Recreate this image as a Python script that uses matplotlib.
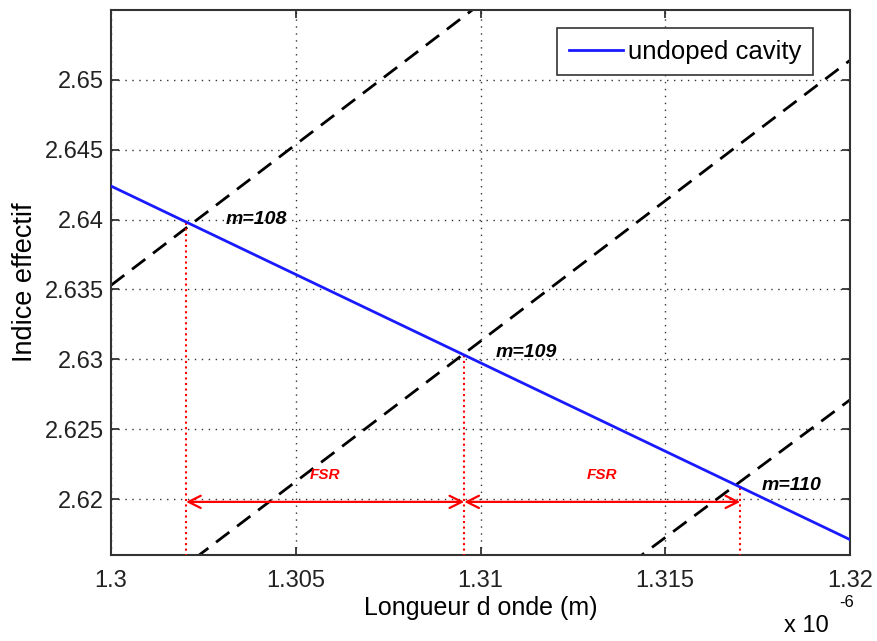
import numpy as np
import matplotlib.pyplot as plt

plt.rcParams['font.family'] = ['Liberation Sans', 'DejaVu Sans']

# wavelength axis in units of 1e-6 m
x_ends = [1.30, 1.32]

# undoped cavity effective index (straight line)
blue_n = [2.6424, 2.6171]

# resonance condition lines (dashed), values at x_ends
dash_108 = [2.6353, 2.6756]
dash_109 = [2.6112, 2.6514]
dash_110 = [2.5877, 2.6271]

# intersections
res_lambda = [1.30203, 1.30956, 1.31703]
res_n = [2.6398, 2.6303, 2.6209]
m_labels = ["m=108", "m=109", "m=110"]
m_label_pos = [(1.3031, 2.6400), (1.3104, 2.6305), (1.3176, 2.6210)]

fsr_y = 2.6198
fsr_label_y = 2.6212

fig = plt.figure(figsize=(8.77, 6.41), dpi=100)
ax = fig.add_axes([0.1266, 0.1342, 0.8426, 0.8502])

# dashed resonance lines
for ys in (dash_108, dash_109, dash_110):
    ax.plot(x_ends, ys, color='black', linestyle=(0, (6, 3.5)), linewidth=2)

# blue line
ax.plot(x_ends, blue_n, color='#1a1aff', linewidth=2, label='undoped cavity', zorder=4)

# red dotted verticals
for lam, n in zip(res_lambda, res_n):
    ax.plot([lam, lam], [2.610, n], color='red', linestyle=':', linewidth=1.5, zorder=3)

# FSR arrows
for i in range(2):
    ax.annotate('', xy=(res_lambda[i], fsr_y), xytext=(res_lambda[i + 1], fsr_y),
                arrowprops=dict(arrowstyle='<->', color='red', lw=1.6,
                                shrinkA=0, shrinkB=0, mutation_scale=22))
    mid = (res_lambda[i] + res_lambda[i + 1]) / 2
    ax.text(mid, fsr_label_y, 'FSR', color='red', fontsize=11, fontstyle='italic',
            fontweight='bold', ha='center', va='bottom')

# m labels
for lbl, (lx, ly) in zip(m_labels, m_label_pos):
    ax.text(lx, ly, lbl, fontsize=14, fontstyle='italic', fontweight='bold',
            ha='left', va='center', color='black', zorder=5)

ax.set_xlim(1.30, 1.32)
ax.set_ylim(2.616, 2.655)
ax.set_xticks([1.30, 1.305, 1.31, 1.315, 1.32])
ax.set_xticklabels(['1.3', '1.305', '1.31', '1.315', '1.32'])
ax.set_yticks([2.62, 2.625, 2.63, 2.635, 2.64, 2.645, 2.65])
ax.set_yticklabels(['2.62', '2.625', '2.63', '2.635', '2.64', '2.645', '2.65'])

ax.grid(True, color='#333333', linestyle=(0, (1, 4)), linewidth=1)
ax.tick_params(direction='in', top=True, right=True, length=6, width=1.2,
               labelsize=17, colors='#222222')
ax.tick_params(axis='x', pad=11)
ax.tick_params(axis='y', pad=5)
for sp in ax.spines.values():
    sp.set_linewidth(1.5)
    sp.set_color('#333333')

ax.set_xlabel('Longueur d onde (m)', fontsize=18, labelpad=3)
ax.set_ylabel('Indice effectif', fontsize=19.5, labelpad=5)
fig.text(0.894, 0.006, 'x 10', fontsize=17, ha='left', va='bottom')
fig.text(0.957, 0.048, '-6', fontsize=12, ha='left', va='bottom')

leg = ax.legend(loc='upper right', fontsize=18.5, fancybox=False, framealpha=1,
                edgecolor='#333333', handlelength=2.1, borderpad=0.45,
                handletextpad=0.2, bbox_to_anchor=(0.967, 0.99))
leg.get_frame().set_linewidth(1.2)

fig.savefig('out.png', dpi=100)
